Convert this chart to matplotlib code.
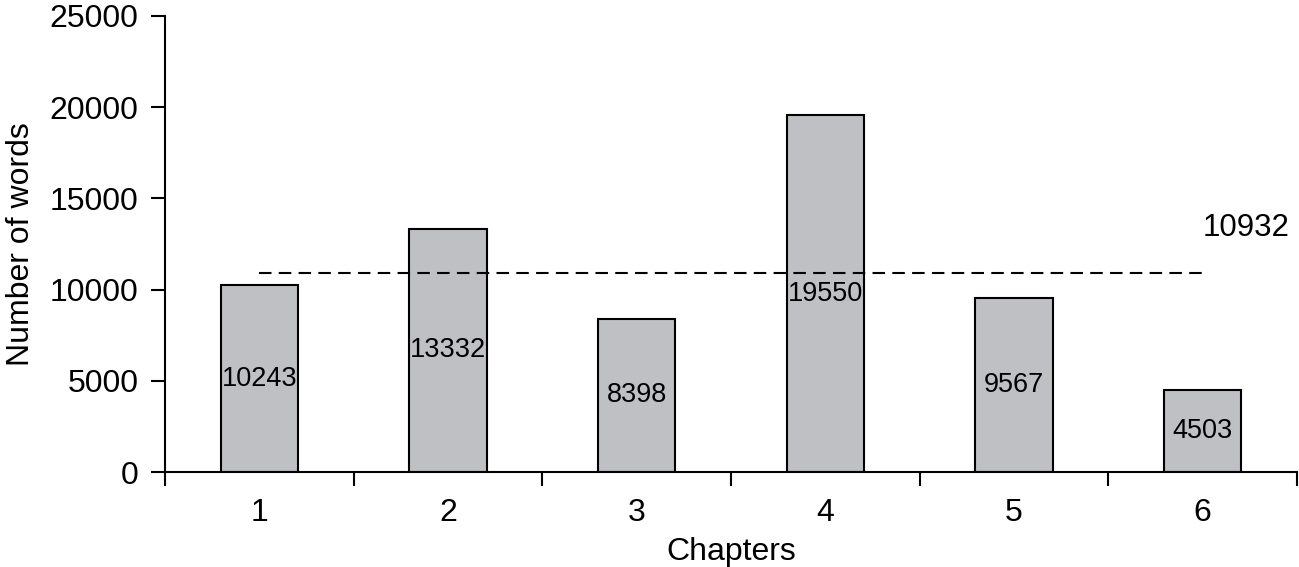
import numpy as np
import matplotlib.pyplot as plt
from matplotlib.ticker import FixedLocator

plt.rcParams['font.family'] = ['Liberation Sans', 'DejaVu Sans']

# chapter word counts
chapters = ['1', '2', '3', '4', '5', '6']
words = [10243, 13332, 8398, 19550, 9567, 4503]
average = 10932

fig = plt.figure(figsize=(12.99, 5.67), dpi=100)
ax = fig.add_axes([0.127, 0.1675, 0.8715, 0.8043])

x = np.arange(len(chapters))
bars = ax.bar(x, words, width=0.41, color='#bfc0c4', edgecolor='black', linewidth=1.5)
ax.bar_label(bars, labels=[str(w) for w in words], label_type='center', fontsize=19.5)

# average line from first to last bar centre
ax.plot([x[0], x[-1]], [average, average], color='black', linestyle=(0, (6, 3.5)), linewidth=1.5)
ax.text(x[-1], average + 2450, str(average), ha='left', va='center', fontsize=22.5)

ax.set_xlim(-0.5, len(chapters) - 0.5)
ax.set_ylim(0, 25000)
ax.set_yticks(range(0, 25001, 5000))
ax.set_xticks(x)
ax.set_xticklabels(chapters)
ax.xaxis.set_minor_locator(FixedLocator(np.arange(-0.5, len(chapters), 1.0)))
ax.tick_params(axis='x', which='major', length=0, pad=19, labelsize=23)
ax.tick_params(axis='x', which='minor', length=10, width=1.5, direction='out')
ax.tick_params(axis='y', length=10, width=1.5, direction='out', pad=9, labelsize=23)

for s in ['top', 'right']:
    ax.spines[s].set_visible(False)
for s in ['left', 'bottom']:
    ax.spines[s].set_linewidth(1.5)

ax.set_xlabel('Chapters', fontsize=23, labelpad=6)
ax.set_ylabel('Number of words', fontsize=23, labelpad=10)

fig.savefig('out.png', dpi=100)
